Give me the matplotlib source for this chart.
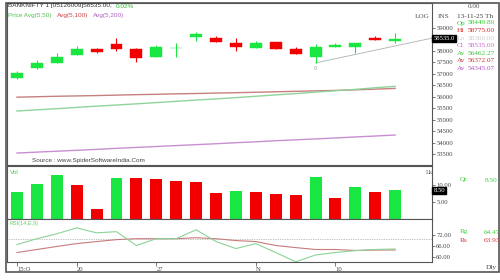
import matplotlib
matplotlib.use("Agg")
import matplotlib.pyplot as plt
import numpy as np

# BANKNIFTY daily candles, 15-Oct-25 .. 13-Nov-25
opens = [56826, 57260, 57478, 57826, 58087, 58304, 58087, 57739, 58108, 58608,
         58565, 58347, 58130, 58391, 58087, 57739, 58174, 58174, 58565, 58449.8]
highs = [57130, 57608, 57913, 58217, 58130, 58565, 58130, 58260, 58347, 58826,
         58652, 58565, 58434, 58391, 58174, 58304, 58347, 58347, 58652, 58775]
lows = [56780, 57217, 57456, 57804, 57913, 58000, 57521, 57739, 57739, 58434,
        58391, 58000, 58130, 58087, 57869, 57478, 58174, 57913, 58478, 58360]
closes = [57043, 57478, 57739, 58087, 57956, 58087, 57695, 58174, 58130, 58739,
          58391, 58174, 58347, 58087, 57869, 58174, 58260, 58347, 58478, 58535]

avg50 = [55390, 55440, 55490, 55545, 55600, 55650, 55700, 55755, 55810, 55865,
         55915, 55970, 56030, 56090, 56145, 56210, 56270, 56330, 56400, 56462]
avg100 = [55990, 56010, 56030, 56045, 56060, 56080, 56100, 56115, 56135, 56150,
          56170, 56185, 56205, 56225, 56245, 56265, 56285, 56310, 56340, 56372]
avg200 = [53560, 53600, 53640, 53680, 53720, 53765, 53805, 53845, 53885, 53925,
          53965, 54010, 54050, 54095, 54135, 54175, 54215, 54260, 54300, 54345]

# volume in lakh, bar colours as shown
volume = [7.9, 10.3, 12.9, 10.0, 2.9, 12.1, 12.1, 11.8, 11.2, 10.9,
          7.6, 8.2, 7.9, 7.4, 7.1, 12.4, 6.2, 9.4, 7.9, 8.5]
vol_up = [1, 1, 1, 0, 0, 1, 0, 0, 0, 0,
          0, 1, 0, 0, 0, 1, 0, 1, 0, 1]

rsi = [66.8, 69.9, 72.5, 75.6, 73.0, 73.6, 66.3, 69.9, 69.9, 74.6,
       68.4, 64.7, 67.3, 62.6, 57.7, 61.3, 62.6, 63.6, 64.2, 64.47]
rsi_sig = [62.6, 64.2, 65.8, 67.3, 68.4, 69.4, 69.9, 69.9, 69.9, 70.4,
           69.9, 68.9, 68.4, 66.3, 65.2, 64.2, 64.2, 63.7, 63.9, 63.93]

trend_x = [15, 20.85]
trend_y = [57480, 58560]

date_pos = [0, 3, 7, 12, 16]
date_lbl = ["15:O", "20", "27", "N", "10"]

GREEN = "#19e640"
RED = "#f20000"
W, H = 500, 280

fig = plt.figure(figsize=(5, 2.8), dpi=100)


def px_axes(x0, y0, x1, y1):
    return fig.add_axes([x0 / W, 1 - y1 / H, (x1 - x0) / W, (y1 - y0) / H])


def ptext(x, y, s, **kw):
    kw.setdefault("fontsize", 4.6)
    kw.setdefault("va", "center")
    kw.setdefault("family", "Liberation Sans")
    fig.text(x / W, 1 - y / H, s, **kw)


def style(ax):
    for sp in ax.spines.values():
        sp.set_color("#555555")
        sp.set_linewidth(0.8)
    ax.yaxis.tick_right()
    ax.tick_params(axis="y", which="both", length=2, width=0.5, pad=1,
                   labelsize=4.8, colors="#444444")
    for t in ax.get_yticklabels():
        t.set_family("Liberation Serif")
    ax.set_xlim(-0.5, 20.85)


x = np.arange(len(closes))

# main price panel
ax = px_axes(7, 3, 432, 165)
ax.plot(x, avg100, color="#c78080", lw=1.0)
ax.plot(x, avg50, color="#8fd49a", lw=1.0)
ax.plot(x, avg200, color="#c98fd2", lw=1.0)
ax.plot(trend_x, trend_y, color="#b0b0b0", lw=0.6)
ax.text(trend_x[0], trend_y[0] - 120, "0", fontsize=3.5, color="#999999",
        ha="center", va="top")
for i in x:
    up = closes[i] >= opens[i]
    col = GREEN if up else RED
    ax.vlines(i, lows[i], highs[i], color=col, lw=0.8)
    lo = min(opens[i], closes[i])
    h = max(abs(closes[i] - opens[i]), 15)
    ax.bar(i, h, bottom=lo, width=0.6, color=col, edgecolor=col, lw=0.3)
ax.set_ylim(53040, 60087)
ax.set_xticks([])
ax.set_yticks([53500, 54000, 54500, 55000, 55500, 56000, 56500, 57000,
               57500, 58000, 59000])
ax.yaxis.set_major_formatter(plt.FuncFormatter(lambda v, p: f"{v:.0f}"))
style(ax)
ax.text(1.003, closes[-1], "58535.0", transform=ax.get_yaxis_transform(),
        fontsize=4.8, color="white", va="center", ha="left",
        family="Liberation Serif",
        bbox=dict(boxstyle="square,pad=0.15", fc="black", ec="black"))
ax.text(0.06, 0.02, "Source : www.SpiderSoftwareIndia.Com",
        transform=ax.transAxes, fontsize=4.6, color="#444444",
        family="Liberation Sans")

# volume panel
axv = px_axes(7, 166, 432, 219)
axv.bar(x, volume, width=0.6, color=[GREEN if u else RED for u in vol_up])
axv.set_ylim(0, 15.6)
axv.set_xticks([])
axv.set_yticks([5, 10])
axv.yaxis.set_major_formatter(plt.FuncFormatter(lambda v, p: f"{v:.2f}"))
style(axv)
axv.text(1.003, volume[-1], "8.50", transform=axv.get_yaxis_transform(),
         fontsize=4.8, color="white", va="center", ha="left",
         family="Liberation Serif",
         bbox=dict(boxstyle="square,pad=0.15", fc="black", ec="black"))

# RSI panel
axr = px_axes(7, 219, 432, 262)
axr.axhline(70, color="#888888", lw=0.5, ls=(0, (1, 1.5)))
axr.plot(x, rsi_sig, color="#c77b7b", lw=0.8)
axr.plot(x, rsi, color="#8bd497", lw=0.8)
axr.set_ylim(57.6, 80.3)
axr.set_yticks([60, 66, 72])
axr.yaxis.set_major_formatter(plt.FuncFormatter(lambda v, p: f"{v:.2f}"))
style(axr)
axr.set_xticks(date_pos)
axr.set_xticklabels(date_lbl, fontsize=4.8, color="#444444",
                    family="Liberation Serif", ha="left")
axr.tick_params(axis="x", length=3, width=0.5, pad=0.5, colors="#444444")

# outer frame
frame = plt.Rectangle((6 / W, 1 - 272 / H), 493 / W, 269 / H,
                      transform=fig.transFigure, fill=False,
                      ec="#555555", lw=1.2)
fig.add_artist(frame)

# header texts
ptext(8, 6, "BANKNIFTY 1 [05126009]58535.00,", color="#333333")
ptext(116, 6, "0.02%", color="#33bb33")
ptext(8, 15, "Price Avg(5,50)", color="#55c055")
ptext(57, 15, "Avg(5,100)", color="#cc4444")
ptext(93, 15, "Avg(5,200)", color="#b060c0")

RF = 5.2
ptext(415, 16, "LOG", color="#555555", family="Liberation Serif", fontsize=RF)
ptext(438, 16, "INS", color="#555555", family="Liberation Serif", fontsize=RF)
ptext(468, 7, "0.00", color="#555555", family="Liberation Serif", fontsize=RF)
ptext(457, 16, "13-11-25 Th", color="#444444", family="Liberation Serif",
      fontsize=RF)

rows = [("Op", "58449.80", "#33cc33"), ("Hi", "58775.00", "#dd2222"),
        ("Lo", "58360.00", "#cccccc"), ("Cl", "58535.00", "#cc66cc"),
        ("Av", "56462.27", "#44c044"), ("Av", "56372.07", "#c03a3a"),
        ("Av", "54345.07", "#b455c8")]
for k, (lab, val, c) in enumerate(rows):
    yy = 23 + k * 7.6
    ptext(457, yy, lab, color=c, family="Liberation Serif", fontsize=RF)
    ptext(468, yy, val, color=c, family="Liberation Serif", fontsize=RF)

ptext(10, 172, "Vol", color="#55cc55")
ptext(426, 172, "Lk", color="#555555", family="Liberation Serif")
ptext(460, 180, "Qt:", color="#44cc44", family="Liberation Serif", fontsize=RF)
ptext(485, 180, "8.50", color="#44cc44", family="Liberation Serif", fontsize=RF)

ptext(9, 223, "RSI(14,E,9)", color="#66cc66", fontsize=4.0)
ptext(460, 232, "Rg", color="#44cc44", family="Liberation Serif", fontsize=RF)
ptext(484, 232, "64.47", color="#44cc44", family="Liberation Serif", fontsize=RF)
ptext(460, 240, "Rs", color="#dd3333", family="Liberation Serif", fontsize=RF)
ptext(484, 240, "63.93", color="#dd3333", family="Liberation Serif", fontsize=RF)
ptext(486, 268, "Dly", color="#444444", family="Liberation Serif", fontsize=RF)

fig.savefig("out.png", dpi=100)
